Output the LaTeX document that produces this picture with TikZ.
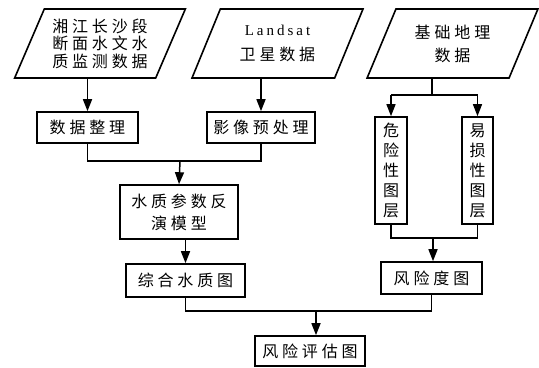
\documentclass[tikz,border=0pt]{standalone}
\usepackage{fontspec}
\setmainfont{Liberation Serif}
\newfontfamily\cjkfont[LetterSpace=24]{Noto Sans CJK SC}
\newfontfamily\latfont[LetterSpace=20]{Liberation Serif}
\usetikzlibrary{shapes.geometric,arrows.meta}
\tikzset{
  txt/.style={font=\cjkfont\fontsize{16bp}{17.5bp}\selectfont, align=center},
  boxnode/.style={txt, draw, line width=1.6bp, inner sep=0pt},
  paranode/.style={txt, draw, line width=1.6bp, shape=trapezium,
    trapezium left angle=63, trapezium right angle=117, trapezium stretches=true,
    minimum width=171bp, minimum height=69bp, inner sep=0pt},
  conn/.style={line width=1.5bp},
  thinconn/.style={line width=1.1bp},
  arr/.style={conn, -{Triangle[length=12bp,width=9bp]}},
  thinarr/.style={line width=1.3bp, -{Triangle[length=12bp,width=9bp]}},
}
\begin{document}
\begin{tikzpicture}[x=1bp,y=-1bp]
\useasboundingbox (0,0) rectangle (539,367);
% input parallelograms
\node[paranode] (p1) at (100,43.5) {湘江长沙段\\断面水文水\\质监测数据};
\node[paranode, font=\cjkfont\fontsize{16bp}{25bp}\selectfont] (p2) at (277.5,43.5) {{\latfont\fontsize{15bp}{25bp}\selectfont Landsat}\\卫星数据};
\node[paranode, font=\cjkfont\fontsize{16bp}{23bp}\selectfont] (p3) at (452.5,43.5) {基础地理\\数据};
% processing boxes
\node[boxnode, minimum width=101bp, minimum height=31bp] (b1) at (87.5,127.5) {数据整理};
\node[boxnode, minimum width=108bp, minimum height=31bp] (b2) at (261,127.5) {影像预处理};
\node[boxnode, minimum width=118bp, minimum height=54bp, font=\cjkfont\fontsize{16bp}{22bp}\selectfont] (m) at (179,212) {水质参数反\\演模型};
\node[boxnode, minimum width=119bp, minimum height=33bp] (c) at (185.5,280.5) {综合水质图};
\node[boxnode, minimum width=32bp, minimum height=107bp, font=\cjkfont\fontsize{16bp}{20bp}\selectfont] (h1) at (391,170.5) {危\\险\\性\\图\\层};
\node[boxnode, minimum width=31bp, minimum height=107bp, font=\cjkfont\fontsize{16bp}{20bp}\selectfont] (h2) at (477.5,170.5) {易\\损\\性\\图\\层};
\node[boxnode, minimum width=101bp, minimum height=32bp] (r) at (431.5,278) {风险度图};
\node[boxnode, minimum width=110bp, minimum height=30bp] (f) at (310,351) {风险评估图};
% junction coordinates
\coordinate (j1) at (180,161);
\coordinate (j2) at (432,95);
\coordinate (j3) at (433,238);
\coordinate (j4) at (316,311);
% connectors
\draw[arr] (p1.south -| b1.north) -- (b1.north);
\draw[arr] (p2.south -| b2.north) -- (b2.north);
\draw[conn] (b1.south) -- (b1.south |- j1) -- (b2.south |- j1) -- (b2.south);
\draw[arr] (j1) -- (m.north);
\draw[arr] (m.south -| c.north) -- (c.north);
\draw[thinconn] (p3.south -| j2) -- (j2);
\draw[thinarr] (h1.north |- j2) -- (h1.north);
\draw[thinarr] (h2.north |- j2) -- (h2.north);
\draw[thinconn] (h1.north |- j2) -- (h2.north |- j2);
\draw[thinconn] (h1.south) -- (h1.south |- j3) -- (h2.south |- j3) -- (h2.south);
\draw[arr] (j3) -- (j3 |- r.north);
\draw[conn] (c.south) -- (c.south |- j4) -- (r.south |- j4) -- (r.south);
\draw[arr] (j4) -- (j4 |- f.north);
\end{tikzpicture}
\end{document}
